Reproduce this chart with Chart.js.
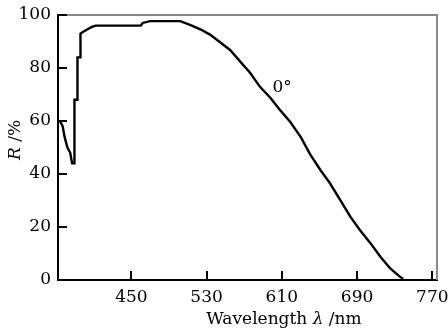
<!DOCTYPE html>
<html>
<head>
<meta charset="utf-8">
<script src="https://cdn.jsdelivr.net/npm/chart.js@4.4.0/dist/chart.umd.min.js"></script>
<style>
  html, body { margin: 0; padding: 0; background: #fff; }
  #wrap { width: 448px; height: 329px; position: relative; }
</style>
</head>
<body>
<div id="wrap"><canvas id="chart"></canvas></div>
<script>
// Reflectance spectrum at 0 deg incidence
const WAVELENGTH = [
  374, 377, 379, 382, 385, 387, 389.4, 389.5, 392.6, 392.7, 395.8, 395.9,
  398, 403, 408, 412, 460, 462, 470, 502, 513, 524, 534, 545, 555, 566,
  576, 587, 598, 608, 619, 630, 640, 651, 661, 672, 683, 693, 704, 715,
  725, 736, 739
];
const REFLECTANCE = [
  60, 58, 54, 50, 48, 44, 44, 68, 68, 84, 84, 93,
  93.5, 94.5, 95.5, 96, 96, 97, 97.7, 97.7, 96.2, 94.5, 92.5, 89.5, 86.8, 82.3,
  78.3, 72.8, 68.7, 64.2, 59.6, 54, 47.5, 41.5, 36.6, 30.2, 23.8, 18.9, 14, 8.7,
  4.5, 1.1, 0.5
];
const X_TICKS = [450, 530, 610, 690, 770];
const Y_TICKS = [0, 20, 40, 60, 80, 100];
const CURVE_LABEL = { text: "0\u00b0", x: 600, y: 71 };

const FONT = "'DejaVu Serif', 'Liberation Serif', serif";
const FONT_SIZE = 17;

// frame: inward tick marks, grey top/right edges, axis titles, curve label
const framePlugin = {
  id: "frame",
  afterDraw(chart) {
    const ctx = chart.ctx;
    const area = chart.chartArea;
    const xs = chart.scales.x;
    const ys = chart.scales.y;
    ctx.save();

    ctx.strokeStyle = "#888";
    ctx.lineWidth = 2;
    ctx.beginPath();
    ctx.moveTo(area.left, area.top);
    ctx.lineTo(area.right, area.top);
    ctx.lineTo(area.right, area.bottom);
    ctx.stroke();

    ctx.strokeStyle = "#000";
    ctx.lineWidth = 2;
    ctx.beginPath();
    Y_TICKS.forEach(function (v) {
      const py = Math.round(ys.getPixelForValue(v));
      ctx.moveTo(area.left, py);
      ctx.lineTo(area.left + 9, py);
    });
    X_TICKS.forEach(function (v) {
      const px = Math.round(xs.getPixelForValue(v));
      ctx.moveTo(px, area.bottom);
      ctx.lineTo(px, area.bottom - 9);
    });
    ctx.stroke();

    ctx.fillStyle = "#000";
    ctx.textBaseline = "alphabetic";

    // x title: Wavelength λ /nm (λ italic)
    const parts = [
      { t: "Wavelength ", f: FONT_SIZE + "px " + FONT },
      { t: "\u03bb", f: "italic " + FONT_SIZE + "px " + FONT },
      { t: " /nm", f: FONT_SIZE + "px " + FONT }
    ];
    let total = 0;
    parts.forEach(function (p) { ctx.font = p.f; p.w = ctx.measureText(p.t).width; total += p.w; });
    let cx = 284 - total / 2;
    parts.forEach(function (p) { ctx.font = p.f; ctx.textAlign = "left"; ctx.fillText(p.t, cx, 324); cx += p.w; });

    // y title: R /% (R italic), rotated
    ctx.translate(20, 140);
    ctx.rotate(-Math.PI / 2);
    const yparts = [
      { t: "R", f: "italic " + FONT_SIZE + "px " + FONT },
      { t: " /%", f: FONT_SIZE + "px " + FONT }
    ];
    total = 0;
    yparts.forEach(function (p) { ctx.font = p.f; p.w = ctx.measureText(p.t).width; total += p.w; });
    cx = -total / 2;
    yparts.forEach(function (p) { ctx.font = p.f; ctx.fillText(p.t, cx, 0); cx += p.w; });
    ctx.setTransform(1, 0, 0, 1, 0, 0);

    // curve label
    ctx.font = FONT_SIZE + "px " + FONT;
    ctx.textAlign = "left";
    ctx.fillText(CURVE_LABEL.text, xs.getPixelForValue(CURVE_LABEL.x), ys.getPixelForValue(CURVE_LABEL.y));

    ctx.restore();
  }
};

const points = WAVELENGTH.map(function (w, i) { return { x: w, y: REFLECTANCE[i] }; });

new Chart(document.getElementById("chart"), {
  type: "line",
  data: {
    datasets: [{
      data: points,
      borderColor: "#000",
      borderWidth: 2.4,
      pointRadius: 0,
      tension: 0,
      fill: false
    }]
  },
  options: {
    responsive: true,
    maintainAspectRatio: false,
    animation: false,
    devicePixelRatio: 1,
    layout: { padding: { left: 0, right: 11, top: 15, bottom: 0 } },
    plugins: { legend: { display: false }, tooltip: { enabled: false } },
    scales: {
      x: {
        type: "linear",
        min: 372,
        max: 775,
        afterBuildTicks: function (scale) {
          scale.ticks = X_TICKS.map(function (v) { return { value: v }; });
        },
        afterFit: function (scale) {
          scale.height = 49;
          scale.paddingLeft = 0;
          scale.paddingRight = 0;
        },
        grid: { drawOnChartArea: false, drawTicks: false },
        border: { color: "#000", width: 2 },
        ticks: {
          color: "#000",
          padding: 7,
          maxRotation: 0,
          font: { family: FONT, size: FONT_SIZE }
        }
      },
      y: {
        min: 0,
        max: 100,
        afterBuildTicks: function (scale) {
          scale.ticks = Y_TICKS.map(function (v) { return { value: v }; });
        },
        afterFit: function (scale) {
          scale.width = 58;
          scale.paddingTop = 0;
          scale.paddingBottom = 0;
        },
        grid: { drawOnChartArea: false, drawTicks: false },
        border: { color: "#000", width: 2 },
        ticks: {
          color: "#000",
          padding: 7,
          font: { family: FONT, size: FONT_SIZE }
        }
      }
    }
  },
  plugins: [framePlugin]
});
</script>
</body>
</html>
